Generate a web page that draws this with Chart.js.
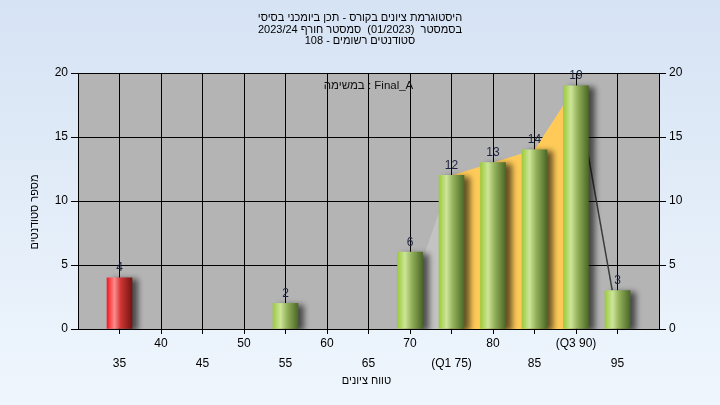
<!DOCTYPE html>
<html>
<head>
<meta charset="utf-8">
<script src="https://cdn.jsdelivr.net/npm/chart.js@4/dist/chart.umd.min.js"></script>
<style>
  body { margin: 0; background: #e4eefa; }
  #wrap { width: 720px; height: 405px; }
</style>
</head>
<body>
<div id="wrap"><canvas id="myChart" width="720" height="405"></canvas></div>
<script>
const categories = [35, 40, 45, 50, 55, 60, 65, 70, 75, 80, 85, 90, 95];
const tickLabels = ["35", "40", "45", "50", "55", "60", "65", "70", "(Q1 75)", "80", "85", "(Q3 90)", "95"];
const studentCounts = [4, 0, 0, 0, 2, 0, 0, 6, 12, 13, 14, 19, 3];

// background shape behind the bars
const spreadX = [70, 75];
const spreadY = [2.5, 12];
const quartileX = [75, 80, 85, 90];
const quartileY = [12, 13, 14, 19];
const tailX = [90, 95];
const tailY = [19, 0.7];

const titleLines = [
    "היסטוגרמת ציונים בקורס - תכן ביומכני בסיסי",
    "בסמסטר  (01/2023)  סמסטר חורף 2023/24",
    "סטודנטים רשומים - 108",
];
const xTitle = "טווח ציונים";
const yTitle = "מספר סטודנטים";
const noteText = "במשימה : Final_A";

const FONT = "'Liberation Sans', Arial, sans-serif";

function zip(xs, ys) {
    return xs.map((x, i) => ({ x: x, y: ys[i] }));
}

const barWidth = 25;

function barGradient(c) {
    const isFail = c.raw && c.raw.x < 55;
    const solid = isFail ? "#d82020" : "#8fb04a";
    const sx = c.chart.scales.x;
    if (!sx || !c.raw) return solid;
    const px = sx.getPixelForValue(c.raw.x);
    if (!isFinite(px)) return solid;
    const g = c.chart.ctx.createLinearGradient(px - barWidth / 2, 0, px + barWidth / 2, 0);
    if (isFail) {
        g.addColorStop(0, "#f01a22");
        g.addColorStop(0.3, "#ff8a8a");
        g.addColorStop(0.55, "#cf3434");
        g.addColorStop(1, "#741414");
    } else {
        g.addColorStop(0, "#9ccb3c");
        g.addColorStop(0.3, "#cde59a");
        g.addColorStop(0.55, "#96b45c");
        g.addColorStop(1, "#4c6828");
    }
    return g;
}

const backdrop = {
    id: "backdrop",
    beforeDraw(chart) {
        const { ctx, chartArea: a } = chart;
        ctx.save();
        const g = ctx.createLinearGradient(0, 0, 0, chart.height);
        g.addColorStop(0, "#d6e3f4");
        g.addColorStop(1, "#eff6fd");
        ctx.fillStyle = g;
        ctx.fillRect(0, 0, chart.width, chart.height);
        ctx.fillStyle = "#b4b4b4";
        ctx.fillRect(a.left, a.top, a.right - a.left, a.bottom - a.top);
        ctx.restore();
    },
};

const barShadow = {
    id: "barShadow",
    beforeDatasetDraw(chart, args) {
        if (args.meta.type !== "bar") return;
        const ctx = chart.ctx;
        ctx.save();
        ctx.shadowColor = "rgba(0,0,0,0.6)";
        ctx.shadowBlur = 6;
        ctx.shadowOffsetX = 6;
        ctx.shadowOffsetY = 2;
    },
    afterDatasetDraw(chart, args) {
        if (args.meta.type !== "bar") return;
        chart.ctx.restore();
    },
};

const texts = {
    id: "texts",
    afterDatasetsDraw(chart) {
        const ctx = chart.ctx;
        const a = chart.chartArea;
        const midX = (a.left + a.right) / 2;
        ctx.save();
        ctx.textBaseline = "middle";
        ctx.textAlign = "center";

        // value above each bar
        ctx.font = "12px " + FONT;
        ctx.fillStyle = "#1c2440";
        const meta = chart.getDatasetMeta(0);
        meta.data.forEach((el, j) => {
            if (!studentCounts[j]) return;
            ctx.fillText(String(studentCounts[j]), el.x, el.y - 10);
        });

        ctx.fillStyle = "#000";
        ctx.font = "11px " + FONT;
        titleLines.forEach((line, i) => ctx.fillText(line, 360, 18 + i * 11.5));

        ctx.fillStyle = "#111";
        ctx.font = "11.5px " + FONT;
        ctx.fillText(noteText, midX, a.top + 13);

        ctx.fillStyle = "#000";
        ctx.font = "11px " + FONT;
        ctx.fillText(xTitle, midX - 2, a.bottom + 52);

        ctx.translate(35, (a.top + a.bottom) / 2 + 11);
        ctx.rotate(-Math.PI / 2);
        ctx.fillText(yTitle, 0, 0);
        ctx.restore();
    },
};

const ctx = document.getElementById("myChart").getContext("2d");

const myChart = new Chart(ctx, {
    type: "bar",
    data: {
        datasets: [
            {
                type: "bar",
                label: "students",
                data: zip(categories, studentCounts.map((v) => v || null)),
                backgroundColor: barGradient,
                borderWidth: 0,
                barThickness: barWidth,
                yAxisID: "y",
                order: 1,
            },
            {
                type: "line",
                data: zip(spreadX, spreadY),
                backgroundColor: "#c3c3c3",
                borderWidth: 0,
                pointRadius: 0,
                fill: "origin",
                tension: 0,
                yAxisID: "y",
                order: 3,
            },
            {
                type: "line",
                data: zip(quartileX, quartileY),
                backgroundColor: "#ffca58",
                borderWidth: 0,
                pointRadius: 0,
                fill: "origin",
                tension: 0,
                yAxisID: "y",
                order: 2,
            },
            {
                type: "line",
                data: zip(tailX, tailY),
                borderColor: "#3c3c3c",
                borderWidth: 1.5,
                pointRadius: 0,
                fill: false,
                tension: 0,
                yAxisID: "y",
                order: 2,
            },
        ],
    },
    options: {
        responsive: false,
        animation: false,
        layout: { padding: { left: 0, right: 0, top: 73, bottom: 17 } },
        plugins: {
            legend: { display: false },
            tooltip: { enabled: false },
            title: { display: false },
        },
        scales: {
            x: {
                type: "linear",
                min: 30,
                max: 100,
                offset: false,
                afterBuildTicks: (s) => {
                    s.ticks = s.ticks.filter((t) => t.value >= 35 && t.value <= 95);
                },
                afterFit: (s) => {
                    s.height = 59;
                },
                ticks: {
                    stepSize: 5,
                    autoSkip: false,
                    maxRotation: 0,
                    padding: 0,
                    color: "#000",
                    font: { family: FONT, size: 12, lineHeight: "20px" },
                    callback: (v) => {
                        const i = categories.indexOf(v);
                        if (i < 0) return "";
                        return i % 2 === 0 ? ["", tickLabels[i]] : [tickLabels[i], ""];
                    },
                },
                grid: { offset: false, color: "#000", lineWidth: 1, tickLength: 5 },
                border: { color: "#000", width: 1 },
            },
            y: {
                position: "left",
                min: 0,
                max: 20,
                afterFit: (s) => {
                    s.width = 78;
                },
                ticks: {
                    stepSize: 5,
                    padding: 3,
                    color: "#000",
                    font: { family: FONT, size: 12 },
                },
                grid: { color: "#000", lineWidth: 1, tickLength: 7 },
                border: { color: "#000", width: 1 },
            },
            y2: {
                position: "right",
                min: 0,
                max: 20,
                afterFit: (s) => {
                    s.width = 61;
                },
                ticks: {
                    stepSize: 5,
                    padding: 3,
                    color: "#000",
                    font: { family: FONT, size: 12 },
                },
                grid: { drawOnChartArea: false, color: "#000", tickLength: 7 },
                border: { color: "#000", width: 1 },
            },
        },
    },
    plugins: [backdrop, barShadow, texts],
});
</script>
</body>
</html>
